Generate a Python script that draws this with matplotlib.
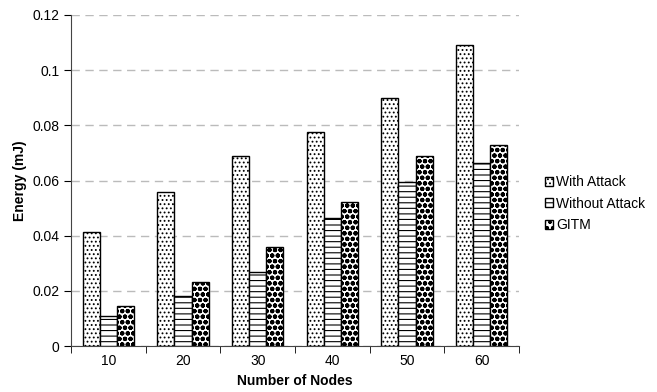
import matplotlib.pyplot as plt
import numpy as np

plt.rcParams['font.family'] = ['Liberation Sans', 'DejaVu Sans']
plt.rcParams['hatch.linewidth'] = 0.8

nodes = ['10', '20', '30', '40', '50', '60']
with_attack = [0.0413, 0.0558, 0.0688, 0.0775, 0.0899, 0.1092]
without_attack = [0.0109, 0.0182, 0.0270, 0.0464, 0.0594, 0.0663]
gitm = [0.0145, 0.0233, 0.0358, 0.0522, 0.0688, 0.0730]

index = np.arange(len(nodes))
width = 0.228

fig = plt.figure(figsize=(6.57, 3.92), dpi=100)
ax = fig.add_axes([71 / 657, 1 - 346 / 392, 448 / 657, 331 / 392])

ax.bar(index - width, with_attack, width=width, color='white', edgecolor='black',
       hatch='....', linewidth=1.0, label='With Attack')
ax.bar(index, without_attack, width=width, color='white', edgecolor='black',
       hatch='---', linewidth=1.0, label='Without Attack')
# darker circle pattern for GITM
with plt.rc_context({'hatch.linewidth': 1.5}):
    ax.bar(index + width, gitm, width=width, color='white', edgecolor='black',
           hatch='ooo', linewidth=1.0, label='GITM')

ax.set_xlim(-0.5, len(nodes) - 0.5)
ax.set_ylim(0, 0.12)
ax.set_yticks(np.arange(0, 0.121, 0.02))
ax.set_yticklabels(['0', '0.02', '0.04', '0.06', '0.08', '0.1', '0.12'], fontsize=10)
ax.set_xticks(index)
ax.set_xticklabels(nodes, fontsize=10)
ax.set_xticks(np.arange(-0.5, len(nodes), 1), minor=True)
ax.tick_params(axis='x', which='major', length=0, pad=6)
ax.tick_params(axis='x', which='minor', length=5, direction='out')
ax.tick_params(axis='y', length=5, direction='out')

ax.yaxis.grid(True, linestyle=(0, (6, 4)), color='#bbbbbb', linewidth=1.0)
ax.set_axisbelow(True)
for s in ['top', 'right']:
    ax.spines[s].set_visible(False)
ax.spines['left'].set_color('#444444')
ax.spines['bottom'].set_color('#444444')

ax.set_xlabel('Number of Nodes', fontweight='bold', fontsize=10, labelpad=4)
ax.set_ylabel('Energy (mJ)', fontweight='bold', fontsize=10)

ax.legend(loc='center left', bbox_to_anchor=(1.03, 0.43), frameon=False,
          fontsize=10, handlelength=0.6, handleheight=0.6, handletextpad=0.2,
          labelspacing=0.55)

fig.savefig('out.png', dpi=100)
